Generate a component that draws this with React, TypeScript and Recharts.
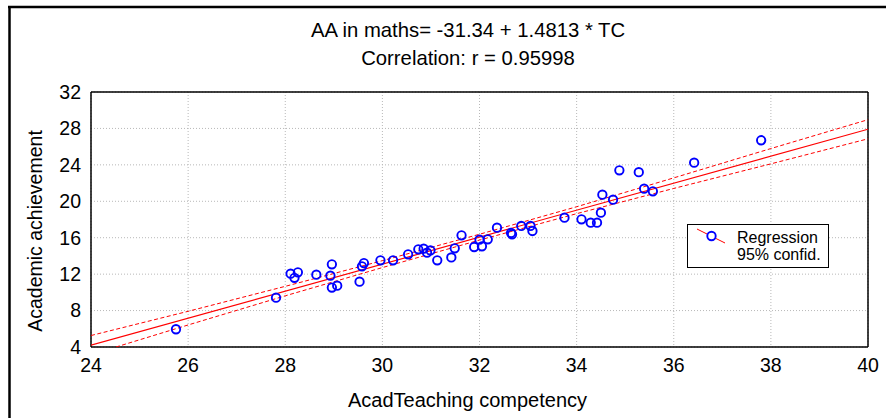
import React from 'react';
import { ComposedChart, Scatter, XAxis, YAxis, CartesianGrid } from 'recharts';

// teaching competency (x) and maths achievement (y) for each respondent
const tcValues = [
  25.75, 27.81, 28.11, 28.19, 28.26, 28.64, 28.96, 28.93, 28.96, 29.07, 29.53, 29.58,
  29.62, 29.96, 30.22, 30.53, 30.74, 30.85, 30.92, 30.99, 31.13, 31.42, 31.49, 31.63,
  31.89, 32.0, 32.05, 32.17, 32.36, 32.65, 32.67, 32.86, 33.05, 33.09, 33.75, 34.1,
  34.29, 34.42, 34.5, 34.53, 34.75, 34.88, 35.28, 35.39, 35.57, 36.42, 37.8,
];
const aaValues = [
  5.95, 9.42, 12.05, 11.6, 12.2, 11.94, 13.08, 11.83, 10.52, 10.73, 11.17, 12.86,
  13.22, 13.52, 13.52, 14.18, 14.72, 14.8, 14.36, 14.6, 13.52, 13.84, 14.84, 16.26,
  14.98, 15.79, 15.05, 15.82, 17.1, 16.52, 16.37, 17.29, 17.29, 16.74, 18.2, 18.02,
  17.65, 17.65, 18.75, 20.73, 20.18, 23.4, 23.2, 21.39, 21.09, 24.24, 26.7,
];

// fitted line and 95% confidence band
const fitX = [24, 40];
const fitY = [4.21, 27.91];
const bandX = [24, 26, 28, 30, 32, 34, 36, 38, 40];
const bandUpper = [5.26, 7.92, 10.66, 13.48, 16.38, 19.4, 22.57, 25.79, 28.96];
const bandLower = [3.16, 6.42, 9.62, 12.72, 15.74, 18.64, 21.41, 24.11, 26.86];

const xTicks = [24, 26, 28, 30, 32, 34, 36, 38, 40];
const yTicks = [4, 8, 12, 16, 20, 24, 28, 32];
const xMinor = [24, 25, 26, 27, 28, 29, 30, 31, 32, 33, 34, 35, 36, 37, 38, 39, 40];
const yMinor = [4, 5, 6, 7, 8, 9, 10, 11, 12, 13, 14, 15, 16, 17, 18, 19, 20, 21, 22, 23, 24, 25, 26, 27, 28, 29, 30, 31, 32];

const points = tcValues.map((x, i) => ({ x, y: aaValues[i] }));
const fitLine = fitX.map((x, i) => ({ x, y: fitY[i] }));
const upperLine = bandX.map((x, i) => ({ x, y: bandUpper[i] }));
const lowerLine = bandX.map((x, i) => ({ x, y: bandLower[i] }));

const FONT = '"Liberation Sans", Arial, sans-serif';
const RED = '#ff0000';
const BLUE = '#0000ff';

const Ring = (props: any) => (
  <circle cx={props.cx} cy={props.cy} r={4.2} fill="none" stroke={BLUE} strokeWidth={1.9} />
);
const NoDot = () => <g />;

const tickStyle = { fontSize: 19.5, fontFamily: FONT, fill: '#000' };

export default function App() {
  return (
    <div style={{ position: 'absolute', left: 0, top: 0, width: 886, height: 418, background: '#fff' }}>
      <ComposedChart
        width={886}
        height={418}
        data={points}
        margin={{ top: 92, right: 18, left: 31, bottom: 31 }}
      >
        <CartesianGrid stroke="#b8b8b8" strokeDasharray="1 2" />
        <XAxis
          xAxisId={0}
          dataKey="x"
          type="number"
          domain={[24, 40]}
          allowDataOverflow
          ticks={xTicks}
          interval={0}
          height={40}
          tickLine={false}
          tickSize={0}
          tickMargin={11}
          axisLine={{ stroke: '#000', strokeWidth: 1.5 }}
          tick={tickStyle}
        />
        <XAxis
          xAxisId="xb"
          dataKey="x"
          type="number"
          orientation="bottom"
          mirror
          domain={[24, 40]}
          allowDataOverflow
          ticks={xMinor}
          interval={0}
          tick={false}
          tickSize={3}
          tickLine={{ stroke: '#000' }}
          axisLine={false}
        />
        <XAxis
          xAxisId="xt"
          dataKey="x"
          type="number"
          orientation="top"
          mirror
          domain={[24, 40]}
          allowDataOverflow
          ticks={xMinor}
          interval={0}
          tick={false}
          tickSize={3}
          tickLine={{ stroke: '#000' }}
          axisLine={{ stroke: '#000', strokeWidth: 1.5 }}
        />
        <YAxis
          yAxisId={0}
          dataKey="y"
          type="number"
          domain={[4, 32]}
          allowDataOverflow
          ticks={yTicks}
          interval={0}
          width={60}
          tickLine={false}
          tickSize={0}
          tickMargin={10}
          axisLine={{ stroke: '#000', strokeWidth: 1.5 }}
          tick={tickStyle}
        />
        <YAxis
          yAxisId="yl"
          dataKey="y"
          type="number"
          orientation="left"
          mirror
          domain={[4, 32]}
          allowDataOverflow
          ticks={yMinor}
          interval={0}
          tick={false}
          tickSize={3}
          tickLine={{ stroke: '#000' }}
          axisLine={false}
        />
        <YAxis
          yAxisId="yr"
          dataKey="y"
          type="number"
          orientation="right"
          mirror
          domain={[4, 32]}
          allowDataOverflow
          ticks={yMinor}
          interval={0}
          tick={false}
          tickSize={3}
          tickLine={{ stroke: '#000' }}
          axisLine={{ stroke: '#000', strokeWidth: 1.5 }}
        />
        <Scatter
          data={upperLine}
          line={{ stroke: RED, strokeWidth: 1, strokeDasharray: '4 2.5' }}
          shape={NoDot}
          isAnimationActive={false}
          legendType="none"
        />
        <Scatter
          data={lowerLine}
          line={{ stroke: RED, strokeWidth: 1, strokeDasharray: '4 2.5' }}
          shape={NoDot}
          isAnimationActive={false}
          legendType="none"
        />
        <Scatter
          data={fitLine}
          line={{ stroke: RED, strokeWidth: 1.2 }}
          shape={NoDot}
          isAnimationActive={false}
          legendType="none"
        />
        <Scatter data={points} shape={Ring} isAnimationActive={false} legendType="none" />
      </ComposedChart>

      {/* titles, axis names, legend and outer frame */}
      <svg
        width={886}
        height={418}
        style={{ position: 'absolute', left: 0, top: 0, pointerEvents: 'none' }}
        fontFamily={FONT}
      >
        <line x1={8} y1={7} x2={886} y2={7} stroke="#000" strokeWidth={2.5} />
        <line x1={9.5} y1={6} x2={9.5} y2={418} stroke="#000" strokeWidth={2.5} />
        <text x={468} y={37} textAnchor="middle" fontSize={20.3}>
          AA in maths= -31.34 + 1.4813 * TC
        </text>
        <text x={468} y={65} textAnchor="middle" fontSize={20.3}>
          Correlation: r = 0.95998
        </text>
        <text x={467.5} y={407} textAnchor="middle" fontSize={20}>
          AcadTeaching competency
        </text>
        <text x={42} y={231} textAnchor="middle" fontSize={19.5} transform="rotate(-90 42 231)">
          Academic achievement
        </text>
        <rect x={687.5} y={224.5} width={141} height={43} fill="#fff" stroke="#000" strokeWidth={1} />
        <line x1={697} y1={229} x2={725} y2={243} stroke={RED} strokeWidth={1} />
        <circle cx={711.5} cy={236} r={4.2} fill="#fff" stroke={BLUE} strokeWidth={1.9} />
        <text x={737} y={243} fontSize={16}>Regression</text>
        <text x={737} y={260} fontSize={16}>95% confid.</text>
      </svg>
    </div>
  );
}
